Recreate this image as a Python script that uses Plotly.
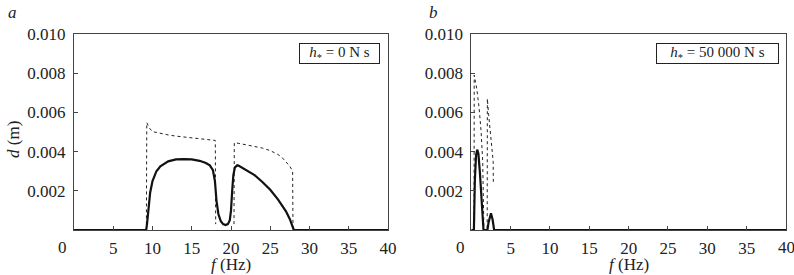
import plotly.graph_objects as go

# ---------------- data ----------------
# Panel a (h* = 0 N s)
a_solid_f = [0, 9.2, 9.3, 9.45, 9.7, 10.0, 10.5, 11.0, 12.0, 13.0, 14.0, 15.0, 16.0, 16.8, 17.3, 17.7,
             17.95, 18.15, 18.4, 18.7, 19.0, 19.3, 19.6, 19.85, 20.0, 20.15, 20.3, 20.5, 20.8, 21.0,
             22.0, 23.0, 24.0, 25.0, 26.0, 27.0, 27.5, 27.9, 28.0, 40]
a_solid_d = [0, 0, 0.3, 1.0, 1.9, 2.5, 3.0, 3.25, 3.5, 3.6, 3.62, 3.6, 3.53, 3.42, 3.3, 3.05,
             2.5, 1.5, 0.8, 0.45, 0.3, 0.25, 0.3, 0.5, 1.0, 2.0, 2.8, 3.2, 3.3, 3.28,
             3.05, 2.8, 2.45, 2.05, 1.55, 0.95, 0.55, 0.1, 0, 0]
a_dot_f = [0, 9.22, 9.27, 9.6, 10.0, 11.0, 12.0, 13.0, 14.0, 15.0, 16.0, 17.0, 18.0, 18.05, None,
           20.38, 20.42, 21.0, 22.0, 23.0, 24.0, 25.0, 26.0, 26.5, 27.0, 27.5, 27.85, 27.9, 40]
a_dot_d = [0, 0, 5.48, 5.2, 5.02, 4.93, 4.85, 4.79, 4.74, 4.69, 4.65, 4.61, 4.57, 0.3, None,
           0.3, 4.45, 4.42, 4.35, 4.28, 4.18, 4.05, 3.85, 3.7, 3.5, 3.25, 3.0, 0, 0]

# Panel b (h* = 50 000 N s)
b_solid_f = [0, 0.33, 0.45, 0.6, 0.75, 0.9, 1.1, 1.3, 1.48, 1.55, 2.05, 2.2, 2.5, 2.7, 2.9, 40]
b_solid_d = [0, 0, 2.5, 3.8, 4.1, 3.9, 2.9, 1.5, 0.2, 0, 0, 0.4, 0.85, 0.55, 0, 0]
b_dot_f = [0, 0.35, 0.37, 0.7, 1.0, 1.25, 1.45, 1.55, 1.6, 2.02, 2.04, 2.2, 2.4, 2.6, 2.78, 2.8, None, 2.9, 40]
b_dot_d = [0, 0, 7.9, 7.2, 6.2, 5.0, 3.5, 1.5, 0, 0, 6.7, 5.9, 5.0, 4.1, 3.5, 2.3, None, 0, 0]

y_ticks = [0.002, 0.004, 0.006, 0.008, 0.010]
y_ticklabels = ["0.002", "0.004", "0.006", "0.008", "0.010"]
x_ticks = [5, 10, 15, 20, 25, 30, 35, 40]
x_ticklabels = ["5", "10", "15", "20", "25", "30", "35", "40"]
panel_labels = ["a", "b"]
box_texts = ["<i>h</i><sub>*</sub> = 0 N s", "<i>h</i><sub>*</sub> = 50 000 N s"]


def scale(v):
    return [None if x is None else x * 1e-3 for x in v]


W, H = 794, 275
FONT = "Liberation Serif, Times New Roman, serif"
INK = "#222222"


def px(x):
    return x / W


def py(y):
    return 1 - y / H


fig = go.Figure()
fig.add_trace(go.Scatter(x=a_dot_f, y=scale(a_dot_d), mode="lines", xaxis="x", yaxis="y",
                         line=dict(color=INK, width=1, dash="dot"), connectgaps=False))
fig.add_trace(go.Scatter(x=a_solid_f, y=scale(a_solid_d), mode="lines", xaxis="x", yaxis="y",
                         line=dict(color="#111111", width=2.2)))
fig.add_trace(go.Scatter(x=b_dot_f, y=scale(b_dot_d), mode="lines", xaxis="x2", yaxis="y2",
                         line=dict(color=INK, width=1, dash="dot"), connectgaps=False))
fig.add_trace(go.Scatter(x=b_solid_f, y=scale(b_solid_d), mode="lines", xaxis="x2", yaxis="y2",
                         line=dict(color="#111111", width=2.2)))

ydom = [py(230), py(34)]
xa = dict(range=[0, 40], tickvals=x_ticks, ticktext=x_ticklabels, ticks="inside", ticklen=4,
          tickcolor="#444", showline=True, linecolor="#444", linewidth=1, mirror=True,
          showgrid=False, zeroline=False, tickfont=dict(family=FONT, size=17, color=INK),
          ticklabelstandoff=3, automargin=False)
ya = dict(range=[0, 0.010], tickvals=y_ticks, ticktext=y_ticklabels, ticks="inside", ticklen=4,
          tickcolor="#444", showline=True, linecolor="#444", linewidth=1, mirror=True,
          showgrid=False, zeroline=False, tickfont=dict(family=FONT, size=17, color=INK),
          ticklabelstandoff=4, domain=ydom, automargin=False)

# panel b: the last label ("40") is placed as an annotation so it is not dropped at the edge
xb = dict(xa, ticktext=x_ticklabels[:-1] + [""])

fig.update_layout(
    width=W, height=H, margin=dict(l=0, r=0, t=0, b=0, autoexpand=False),
    paper_bgcolor="white", plot_bgcolor="white", showlegend=False,
    xaxis=dict(xa, domain=[px(74), px(388)], anchor="y"),
    yaxis=dict(ya, anchor="x"),
    xaxis2=dict(xb, domain=[px(471.3), px(786)], anchor="y2"),
    yaxis2=dict(ya, anchor="x2"),
)

ann = []
# "0" labels at the origin, shifted left as in the reference
for x0 in (62, 460.5):
    ann.append(dict(x=px(x0), y=py(247), xref="paper", yref="paper", text="0", showarrow=False,
                    font=dict(family=FONT, size=17, color=INK), xanchor="center", yanchor="middle"))
ann.append(dict(x=40, y=py(247), xref="x2", yref="paper", text=x_ticklabels[-1], showarrow=False,
                font=dict(family=FONT, size=17, color=INK), xanchor="center", yanchor="middle"))
# x titles
for xc in (231, 628.5):
    ann.append(dict(x=px(xc), y=py(264), xref="paper", yref="paper", text="<i>f</i> (Hz)",
                    showarrow=False, font=dict(family=FONT, size=17, color=INK),
                    xanchor="center", yanchor="middle"))
# y title
ann.append(dict(x=px(14), y=py(140), xref="paper", yref="paper", text="<i>d</i> (m)", textangle=-90,
                showarrow=False, font=dict(family=FONT, size=17, color=INK),
                xanchor="center", yanchor="middle"))
# panel letters
for (xl, lab) in ((12, panel_labels[0]), (433, panel_labels[1])):
    ann.append(dict(x=px(xl), y=py(12), xref="paper", yref="paper", text="<i>%s</i>" % lab,
                    showarrow=False, font=dict(family=FONT, size=17, color=INK),
                    xanchor="center", yanchor="middle"))
# boxed labels
for (xc, wbox, txt) in ((339.5, 79, box_texts[0]), (717.5, 121, box_texts[1])):
    ann.append(dict(x=px(xc), y=py(53.5), xref="paper", yref="paper", text=txt, showarrow=False,
                    font=dict(family=FONT, size=15, color=INK), xanchor="center", yanchor="middle",
                    bordercolor="#222", borderwidth=1, borderpad=0, bgcolor="white",
                    width=wbox, height=19))
fig.update_layout(annotations=ann)

fig.write_html("out.html", config={"displayModeBar": False})

# remove the default page margin so the figure sits at the window's top-left corner
with open("out.html", "r", encoding="utf-8") as fh:
    html = fh.read()
html = html.replace("<head>", "<head><style>html,body{margin:0;padding:0;overflow:hidden;}</style>", 1)
with open("out.html", "w", encoding="utf-8") as fh:
    fh.write(html)
